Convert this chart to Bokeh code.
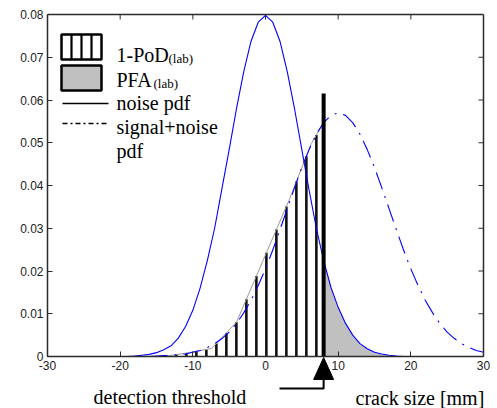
import numpy as np
from bokeh.plotting import figure
from bokeh.models import Range1d, FixedTicker, Label, LinearAxis
from bokeh.core.properties import value
from bokeh.embed import file_html
from bokeh.resources import INLINE

# ---- data ----
crack_mm = list(range(-30, 31))
noise_pdf = [0, 0, 0, 0, 0, 0, 0, 0, 0, 0, 0, 0,
             0.0001, 0.0003, 0.0005, 0.0009, 0.0016, 0.0025, 0.0043, 0.0070,
             0.0108, 0.0160, 0.0225, 0.0300, 0.0392, 0.0484, 0.0579, 0.0666,
             0.0737, 0.0782, 0.0798, 0.0782, 0.0737, 0.0666, 0.0579, 0.0484,
             0.0389, 0.0300, 0.0225, 0.0162, 0.0115, 0.0078, 0.0050, 0.0030,
             0.0018, 0.0010, 0.0006, 0.0003, 0.0001,
             0, 0, 0, 0, 0, 0, 0, 0, 0, 0, 0, 0]
signal_pdf = [0, 0, 0, 0, 0, 0, 0, 0, 0, 0, 0, 0, 0, 0, 0,
              0.0001, 0.0002, 0.0003, 0.0004, 0.0006, 0.0010, 0.0014, 0.0021,
              0.0030, 0.0042, 0.0057, 0.0077, 0.0102, 0.0131, 0.0166, 0.0205,
              0.0249, 0.0297, 0.0346, 0.0395, 0.0442, 0.0484, 0.0520, 0.0547,
              0.0564, 0.0570, 0.0564, 0.0547, 0.0520, 0.0484, 0.0442, 0.0395,
              0.0346, 0.0297, 0.0249, 0.0205, 0.0166, 0.0131, 0.0102, 0.0077,
              0.0057, 0.0042, 0.0030, 0.0021, 0.0014, 0.0010]
# outline of the hatched (1-PoD) region, coarser than the curve
pod_edge_x = [-14.0, -10.5, -7.4, -4.0, 3.3, 6.3, 8.0]
pod_edge_y = [0.0, 0.0009, 0.0019, 0.0080, 0.0368, 0.0498, 0.0547]
threshold = 8.0
threshold_top = 0.0615

x_ticks = [-30, -20, -10, 0, 10, 20, 30]
x_labels = ["-30", "-20", "-10", "0", "10", "20", "30"]
y_ticks = [0, 0.01, 0.02, 0.03, 0.04, 0.05, 0.06, 0.07, 0.08]
y_labels = ["0", "0.01", "0.02", "0.03", "0.04", "0.05", "0.06", "0.07", "0.08"]

legend_labels = ["1-PoD", "PFA", "noise pdf", "signal+noise", "pdf"]
subscript = "(lab)"
bottom_texts = ["detection threshold", "crack size [mm]"]

BLUE = "#0000ff"
AX = "#2b2b2b"
SERIF = "Liberation Serif"
SANS = "Liberation Sans"

# ---- page geometry (pixels) ----
W, H = 497, 408
FX0, FX1 = 47, 483        # pixel columns of x=-30 and x=30
FY0, FY1 = 356, 14        # pixel rows of y=0 and y=0.08
XPX = 60 / (FX1 - FX0)
YPX = 0.08 / (FY0 - FY1)


def px2x(px):
    return -30 + (px - FX0) * XPX


def py2y(py):
    return (FY0 - py) * YPX


p = figure(width=W, height=H,
           x_range=Range1d(px2x(0), px2x(W)), y_range=Range1d(py2y(H), py2y(0)),
           output_backend="svg", toolbar_location=None,
           min_border_left=0, min_border_right=0, min_border_top=0, min_border_bottom=0)
p.xgrid.visible = False
p.ygrid.visible = False
p.outline_line_color = None
p.background_fill_color = "white"
p.border_fill_color = "white"

p.xaxis.fixed_location = 0
p.xaxis.bounds = (-30, 30)
p.xaxis.ticker = FixedTicker(ticks=x_ticks, minor_ticks=[])
p.xaxis.major_label_overrides = {t: l for t, l in zip(x_ticks, x_labels)}
p.yaxis.fixed_location = -30
p.yaxis.bounds = (0, 0.08)
p.yaxis.ticker = FixedTicker(ticks=y_ticks, minor_ticks=[])
p.yaxis.major_label_overrides = {t: l for t, l in zip(y_ticks, y_labels)}

p.add_layout(LinearAxis(ticker=FixedTicker(ticks=[], minor_ticks=[]),
                        fixed_location=0.08, bounds=(-30, 30)), "above")
p.add_layout(LinearAxis(ticker=FixedTicker(ticks=[], minor_ticks=[]),
                        fixed_location=30, bounds=(0, 0.08)), "right")

for ax in p.axis:
    ax.major_tick_in = 5
    ax.major_tick_out = 0
    ax.minor_tick_in = 0
    ax.minor_tick_out = 0
    ax.axis_line_color = AX
    ax.axis_line_width = 1.5
    ax.major_tick_line_color = AX
    ax.major_label_text_font = SANS
    ax.major_label_text_font_size = "12px"
    ax.major_label_text_color = "#222222"
    ax.major_label_standoff = 4

# inward ticks on the top and right edges
top_t = x_ticks[1:-1]
right_t = y_ticks[1:-1]
p.segment(x0=top_t, y0=[0.08] * len(top_t), x1=top_t, y1=[0.08 - 5 * YPX] * len(top_t),
          line_color=AX, line_width=1)
p.segment(x0=[30] * len(right_t), y0=right_t, x1=[30 - 5 * XPX] * len(right_t), y1=right_t,
          line_color=AX, line_width=1)

x = np.array(crack_mm, dtype=float)
nz = np.array(noise_pdf)
sg = np.array(signal_pdf)

# PFA area: under noise pdf right of threshold
gx = np.concatenate([[threshold], x[x > threshold]])
gy = np.interp(gx, x, nz)
p.varea(x=gx, y1=0, y2=gy, fill_color="#c0c0c0")

# 1-PoD area: vertical hatch under the outline left of threshold
hatch_x = np.arange(threshold - 1.0, -14, -10 * XPX)
hatch_top = np.interp(hatch_x, pod_edge_x, pod_edge_y)
p.segment(x0=hatch_x, y0=0, x1=hatch_x, y1=hatch_top, line_color="#111111", line_width=2.6)
p.line(pod_edge_x, pod_edge_y, line_color="#9a9a9a", line_width=1)

p.line(x, nz, line_color=BLUE, line_width=1.1)
p.line(x, sg, line_color=BLUE, line_width=1.1, line_dash="18 7 2 7")

p.segment(x0=[threshold], y0=[0], x1=[threshold], y1=[threshold_top],
          line_color="black", line_width=4, line_cap="butt")

# ---- legend (drawn) ----
bx0, bx1 = px2x(61), px2x(101)
p.quad(left=[bx0], right=[bx1], bottom=[py2y(59)], top=[py2y(34)],
       fill_color="white", line_color="black", line_width=2.5)
inner = [px2x(71), px2x(81), px2x(91)]
p.segment(x0=inner, y0=[py2y(59)] * 3, x1=inner, y1=[py2y(34)] * 3,
          line_color="black", line_width=2.2)
p.quad(left=[bx0], right=[bx1], bottom=[py2y(90)], top=[py2y(65)],
       fill_color="#c0c0c0", line_color="black", line_width=2.5)
p.line([px2x(62), px2x(108)], [py2y(103)] * 2, line_color="black", line_width=1.5)
p.line([px2x(62), px2x(108)], [py2y(123)] * 2, line_color="black", line_width=1.5, line_dash="5 3 2 3")

baselines = [54, 79, 102, 126, 150]
for t, b in zip(legend_labels, baselines):
    p.add_layout(Label(x=px2x(116), y=py2y(b), text=t, text_font=SERIF, text_font_size="20px",
                       text_color="black", text_baseline="alphabetic"))
p.add_layout(Label(x=px2x(168), y=py2y(58), text=subscript, text_font=SERIF, text_font_size="13px",
                   text_color="black", text_baseline="alphabetic"))
p.add_layout(Label(x=px2x(153), y=py2y(83), text=subscript, text_font=SERIF, text_font_size="13px",
                   text_color="black", text_baseline="alphabetic"))

# ---- threshold marker below the axis ----
tip_y = py2y(FY0 + 1)
base_y = py2y(FY0 + 23)
elbow_y = py2y(388)
half_w = 10 * XPX
p.patch(x=[threshold, threshold - half_w, threshold + half_w],
        y=[tip_y, base_y, base_y], fill_color="black", line_color="black", line_width=1)
p.line(x=[threshold, threshold, px2x(279)], y=[base_y, elbow_y, elbow_y],
       line_color="black", line_width=2)
p.text(x=[px2x(93), px2x(355)], y=[py2y(396), py2y(397)],
       text=bottom_texts, text_font=value(SERIF), text_font_size=value("20px"),
       text_color="black", text_baseline="alphabetic", text_align="left")

open("out.html", "w").write(file_html(p, INLINE))
